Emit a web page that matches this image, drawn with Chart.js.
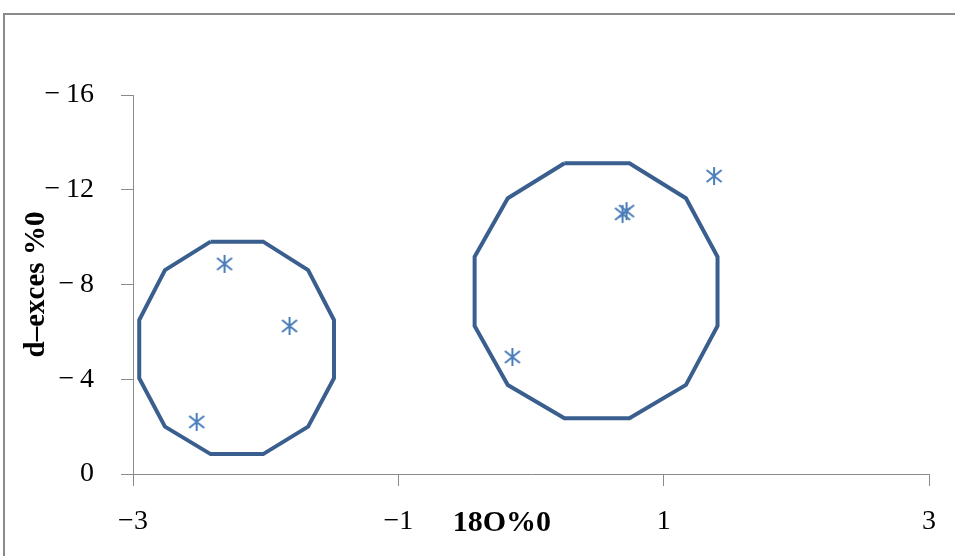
<!DOCTYPE html>
<html>
<head>
<meta charset="utf-8">
<script src="https://cdn.jsdelivr.net/npm/chart.js@4.4.1/dist/chart.umd.min.js"></script>
<style>
  html, body { margin: 0; padding: 0; background: #fff; overflow: hidden; }
  #wrap { position: relative; width: 955px; height: 556px; }
  #frame { position: absolute; left: 3px; top: 13px; width: 1000px; height: 600px; border: 2px solid #8a8a8a; box-sizing: border-box; }
  canvas { position: absolute; left: 0; top: 0; }
</style>
</head>
<body>
<div id="wrap">
  <div id="frame"></div>
  <canvas id="c" width="955" height="556"></canvas>
</div>
<script>
// Sample points (δ18O, d-excess)
const sampleX = [-2.31, -1.82, -2.52, -0.14, 0.69, 0.72, 1.38];
const sampleY = [-8.87, -6.25, -2.20, -4.94, -10.98, -11.10, -12.58];

// Left grouping polygon (12 vertices, closed)
const leftPolyX = [-2.415, -2.019, -1.680, -1.485, -1.485, -1.680, -2.019, -2.415, -2.759, -2.953, -2.953, -2.759, -2.415];
const leftPolyY = [-9.81, -9.81, -8.61, -6.50, -4.04, -2.00, -0.84, -0.84, -2.00, -4.04, -6.50, -8.61, -9.81];

// Right grouping polygon (12 vertices, closed)
const rightPolyX = [0.252, 0.742, 1.168, 1.406, 1.406, 1.168, 0.742, 0.252, -0.175, -0.425, -0.425, -0.175, 0.252];
const rightPolyY = [-13.12, -13.12, -11.64, -9.17, -6.25, -3.76, -2.35, -2.35, -3.76, -6.25, -9.17, -11.64, -13.12];

const xTicks = [-3, -1, 1, 3];
const yTicks = [-16, -12, -8, -4, 0];
const xTitle = '18O%0';
const yTitle = 'd\u2013exces %0';

const pts = (xs, ys) => xs.map((x, i) => ({ x: x, y: ys[i] }));

// asterisk marker
const star = document.createElement('canvas');
star.width = 20; star.height = 20;
(function () {
  const g = star.getContext('2d');
  g.strokeStyle = '#4a7ebb';
  g.lineWidth = 2;
  g.beginPath();
  g.moveTo(10, 1); g.lineTo(10, 19);
  g.moveTo(2.5, 4); g.lineTo(17.5, 16);
  g.moveTo(17.5, 4); g.lineTo(2.5, 16);
  g.stroke();
})();

const serif = "'Liberation Serif', 'Times New Roman', serif";

const xTitlePlugin = {
  id: 'xTitle',
  afterDraw(chart) {
    const ctx = chart.ctx;
    const xs = chart.scales.x;
    ctx.save();
    ctx.font = 'bold 30px ' + serif;
    ctx.fillStyle = '#000';
    ctx.textAlign = 'center';
    ctx.textBaseline = 'middle';
    ctx.fillText(xTitle, xs.getPixelForValue(-0.22), xs.top + 49);
    ctx.restore();
  }
};

new Chart(document.getElementById('c'), {
  type: 'scatter',
  data: {
    datasets: [
      {
        label: 'left group',
        data: pts(leftPolyX, leftPolyY),
        showLine: true,
        borderColor: '#3a5f8e',
        borderWidth: 4,
        pointRadius: 0,
        fill: false,
        tension: 0
      },
      {
        label: 'right group',
        data: pts(rightPolyX, rightPolyY),
        showLine: true,
        borderColor: '#3a5f8e',
        borderWidth: 4,
        pointRadius: 0,
        fill: false,
        tension: 0
      },
      {
        label: 'samples',
        data: pts(sampleX, sampleY),
        pointStyle: star,
        pointRadius: 10,
        showLine: false
      }
    ]
  },
  options: {
    responsive: false,
    animation: false,
    events: [],
    layout: { padding: { left: 0, top: 95, right: 25, bottom: 0 } },
    plugins: { legend: { display: false }, tooltip: { enabled: false } },
    scales: {
      x: {
        type: 'linear',
        min: -3, max: 3,
        afterFit: s => { s.height = 82; },
        afterBuildTicks: s => { s.ticks = xTicks.map(v => ({ value: v })); },
        grid: { drawOnChartArea: false, drawTicks: true, tickLength: 12, color: '#8a8a8a' },
        border: { display: true, color: '#8a8a8a', width: 1 },
        ticks: { color: '#000', font: { family: serif, size: 28 }, padding: 19, maxRotation: 0,
                 callback: v => String(v).replace('-', '\u2212') }
      },
      y: {
        type: 'linear',
        min: -16, max: 0,
        reverse: true,
        afterFit: s => { s.width = 133; },
        afterBuildTicks: s => { s.ticks = yTicks.map(v => ({ value: v })); },
        grid: { drawOnChartArea: false, drawTicks: true, tickLength: 12, color: '#8a8a8a' },
        border: { display: true, color: '#8a8a8a', width: 1 },
        ticks: { color: '#000', font: { family: serif, size: 28 }, padding: 27,
                 callback: v => (v < 0 ? '\u2212\u2009' + Math.abs(v) : String(v)) },
        title: { display: true, text: yTitle, color: '#000', font: { family: serif, size: 29, weight: 'bold' },
                 padding: { top: 19, bottom: 0 } }
      }
    }
  },
  plugins: [xTitlePlugin]
});
</script>
</body>
</html>
